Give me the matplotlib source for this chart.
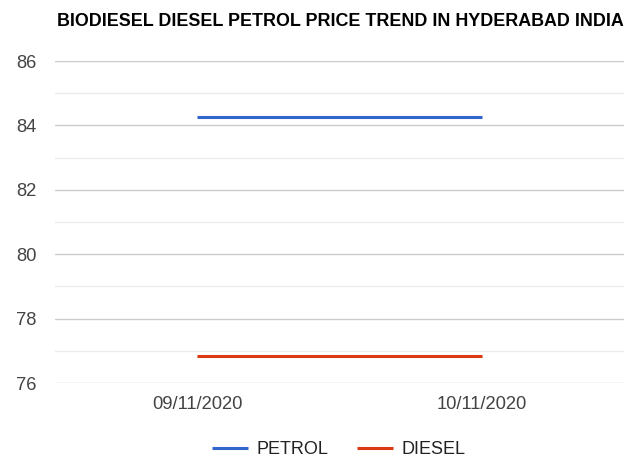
import matplotlib
matplotlib.use("Agg")
import matplotlib.pyplot as plt
from matplotlib.ticker import MultipleLocator

plt.rcParams['font.family'] = ['Liberation Sans', 'DejaVu Sans']

dates = ["09/11/2020", "10/11/2020"]
petrol = [84.25, 84.25]
diesel = [76.84, 76.84]
title = "BIODIESEL DIESEL PETROL PRICE TREND IN HYDERABAD INDIA"

fig = plt.figure(figsize=(6.27, 4.59), dpi=100)
ax = fig.add_axes([55/627, 76/459, 569/627, 322/459])

x = list(range(len(dates)))
ax.plot(x, petrol, color="#3366cc", lw=2.2, label="PETROL", solid_capstyle="butt")
ax.plot(x, diesel, color="#dc3912", lw=2.2, label="DIESEL", solid_capstyle="butt")

ax.set_xlim(-0.5, len(dates) - 0.5)
ax.set_ylim(76, 86)
ax.yaxis.set_major_locator(MultipleLocator(2))
ax.yaxis.set_minor_locator(MultipleLocator(1))
ax.set_xticks(x)
ax.set_xticklabels(dates)
ax.grid(axis='y', which='major', color="#cccccc", lw=1)
ax.grid(axis='y', which='minor', color="#ebebeb", lw=1)
ax.set_axisbelow(True)
for s in ax.spines.values():
    s.set_visible(False)
ax.tick_params(axis='both', which='both', length=0, labelsize=13.2, labelcolor="#444444")
ax.tick_params(axis='y', pad=13.5)
ax.tick_params(axis='x', pad=9.5)

fig.text(57/627, 1 - 22/459, title, fontsize=12.85, fontweight='bold', color='black',
         ha='left', va='center')

fig.legend(loc='center', bbox_to_anchor=(339/627, 1 - 450/459), ncol=2, frameon=False,
           fontsize=13, handlelength=2.0, handletextpad=0.45, columnspacing=1.6,
           labelcolor="#222222")

fig.savefig("out.png", dpi=100)
